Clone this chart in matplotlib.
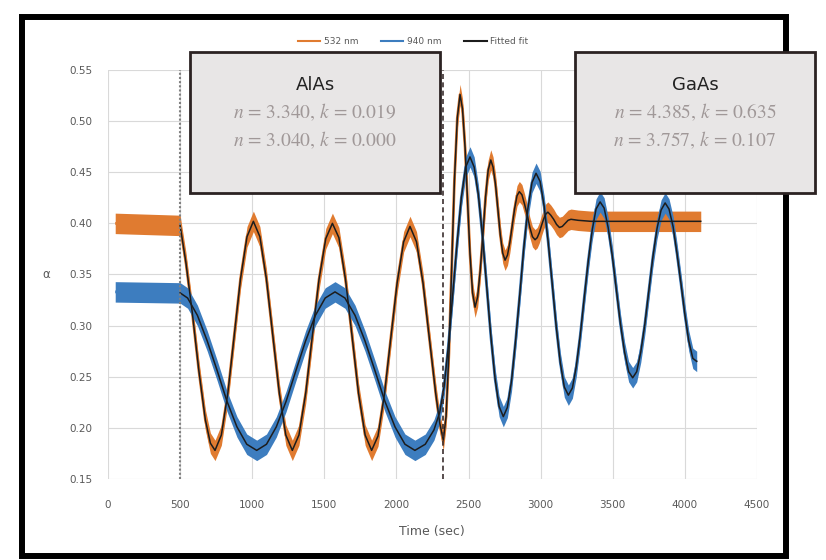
import numpy as np
import matplotlib.pyplot as plt
from matplotlib.patches import Rectangle
from matplotlib.lines import Line2D
from matplotlib.ticker import FormatStrFormatter

plt.rcParams['mathtext.fontset'] = 'stix'

# time (sec) and alpha for the 532 nm trace
t_532 = [50, 500, 540, 585, 630, 675, 710, 742,
         786, 831, 875, 919, 964, 1008,
         1053, 1098, 1143, 1188, 1233, 1278,
         1324, 1371, 1417, 1463, 1510, 1556,
         1601, 1647, 1692, 1737, 1783, 1828,
         1872, 1917, 1961, 2005, 2050, 2094,
         2139, 2184, 2228, 2273, 2300, 2325,
         2344, 2364, 2383, 2402, 2422, 2441,
         2458, 2476, 2493, 2510, 2528, 2545,
         2563, 2581, 2600, 2618, 2636, 2654,
         2670, 2687, 2704, 2720, 2737, 2753,
         2770, 2786, 2803, 2819, 2836, 2852,
         2870, 2888, 2907, 2925, 2943, 2961,
         2976, 2991, 3006, 3020, 3035, 3050,
         3070, 3090, 3110, 3130, 3150, 3170, 3190, 3210, 3260, 3350, 4110]
a_532 = [0.400, 0.398, 0.362, 0.312, 0.256, 0.208, 0.185, 0.178,
         0.193, 0.234, 0.290, 0.346, 0.387, 0.402,
         0.387, 0.346, 0.290, 0.234, 0.193, 0.178,
         0.193, 0.234, 0.290, 0.345, 0.385, 0.400,
         0.386, 0.345, 0.290, 0.234, 0.193, 0.178,
         0.192, 0.233, 0.288, 0.342, 0.382, 0.397,
         0.382, 0.342, 0.288, 0.233, 0.205, 0.188,
         0.211, 0.273, 0.357, 0.442, 0.503, 0.526,
         0.512, 0.474, 0.422, 0.370, 0.332, 0.318,
         0.328, 0.354, 0.390, 0.426, 0.452, 0.462,
         0.455, 0.438, 0.413, 0.389, 0.371, 0.364,
         0.369, 0.381, 0.398, 0.414, 0.427, 0.431,
         0.428, 0.419, 0.408, 0.396, 0.387, 0.384,
         0.386, 0.391, 0.398, 0.404, 0.409, 0.411,
         0.408, 0.404, 0.399, 0.396, 0.397, 0.400, 0.403, 0.404, 0.403, 0.402, 0.402]

# time (sec) and alpha for the 940 nm trace
t_940 = [50, 500, 552, 620, 688, 757, 825, 894, 962, 1031,
         1099, 1167, 1235, 1303, 1370, 1438, 1506, 1574,
         1643, 1713, 1782, 1851, 1920, 1990, 2059, 2128,
         2200, 2260, 2300, 2330, 2360, 2390, 2420, 2450, 2480, 2510,
         2539, 2568, 2597, 2626, 2655, 2684, 2712, 2741,
         2769, 2798, 2826, 2855, 2883, 2911, 2940, 2968,
         2996, 3024, 3052, 3080, 3108, 3136, 3164, 3192,
         3220, 3247, 3274, 3302, 3330, 3357, 3384, 3412,
         3440, 3468, 3497, 3525, 3553, 3582, 3610, 3638,
         3666, 3694, 3722, 3750, 3778, 3807, 3835, 3863,
         3890, 3918, 3945, 3973, 4000, 4027, 4055, 4082]
a_940 = [0.333, 0.332, 0.327, 0.310, 0.285, 0.256, 0.226, 0.201, 0.184, 0.178,
         0.184, 0.201, 0.226, 0.256, 0.285, 0.310, 0.327, 0.333,
         0.327, 0.310, 0.285, 0.256, 0.226, 0.201, 0.184, 0.178,
         0.184, 0.198, 0.215, 0.240, 0.280, 0.330, 0.380, 0.425, 0.455, 0.465,
         0.455, 0.428, 0.387, 0.338, 0.289, 0.248, 0.221, 0.211,
         0.220, 0.246, 0.285, 0.330, 0.376, 0.414, 0.440, 0.449,
         0.441, 0.417, 0.382, 0.341, 0.299, 0.264, 0.240, 0.232,
         0.239, 0.260, 0.290, 0.327, 0.363, 0.393, 0.414, 0.421,
         0.415, 0.396, 0.368, 0.335, 0.302, 0.274, 0.255, 0.249,
         0.255, 0.274, 0.301, 0.334, 0.367, 0.395, 0.413, 0.420,
         0.414, 0.397, 0.371, 0.341, 0.311, 0.285, 0.268, 0.265]

fit_start = 500      # fit drawn from growth start
t_alas_start = 500   # dotted marker
t_gaas_start = 2325  # dashed marker

labels = ['532 nm', '940 nm', 'Fitted fit']
alas_lines = ['$n$ = 3.340, $k$ = 0.019', '$n$ = 3.040, $k$ = 0.000']
gaas_lines = ['$n$ = 4.385, $k$ = 0.635', '$n$ = 3.757, $k$ = 0.107']

W, H = 826, 560
fig = plt.figure(figsize=(W / 100, H / 100), dpi=100)
ax = fig.add_axes([108 / W, 1 - 479 / H, (757 - 108) / W, (479 - 70) / H])

orange = '#E07B30'
blue = '#3D7DBF'
fitc = '#1c1c1c'
band = 0.010

t1, a1 = np.array(t_532), np.array(a_532)
t2, a2 = np.array(t_940), np.array(a_940)

ax.fill_between(t1, a1 - band, a1 + band, color=orange, lw=0, zorder=2)
ax.plot(t1, a1, color=orange, lw=2, zorder=2, solid_capstyle='butt')
ax.fill_between(t2, a2 - band, a2 + band, color=blue, lw=0, zorder=3)
ax.plot(t2, a2, color=blue, lw=2, zorder=3, solid_capstyle='butt')

m1 = t1 >= fit_start
m2 = t2 >= fit_start
ax.plot(t1[m1], a1[m1], color=fitc, lw=1.1, zorder=4)
ax.plot(t2[m2], a2[m2], color=fitc, lw=1.1, zorder=4)

ax.axvline(t_alas_start, color='#808080', ls=(0, (1, 1)), lw=1.5, zorder=5)
ax.axvline(t_gaas_start, color='#3b2f2f', ls=(0, (3, 2)), lw=1.2, zorder=5)

ax.set_xlim(0, 4500)
ax.set_ylim(0.15, 0.55)
ax.set_xticks(np.arange(0, 4501, 500))
ax.set_yticks(np.arange(0.15, 0.5501, 0.05))
ax.yaxis.set_major_formatter(FormatStrFormatter('%.2f'))
ax.grid(color='#d9d9d9', lw=0.8)
ax.set_axisbelow(True)
for s in ax.spines.values():
    s.set_visible(False)
ax.tick_params(length=0, labelsize=7.5, labelcolor='#595959')
ax.tick_params(axis='x', pad=15)
ax.tick_params(axis='y', pad=11)

fig.text(432 / W, 1 - 532 / H, 'Time (sec)', ha='center', va='center',
         fontsize=9, color='#595959')
fig.text(46 / W, 1 - 274 / H, 'α', ha='center', va='center',
         fontsize=8.5, color='#595959')

handles = [Line2D([], [], color=orange, lw=1.5),
           Line2D([], [], color=blue, lw=1.5),
           Line2D([], [], color=fitc, lw=1.5)]
fig.legend(handles, labels, loc='center', bbox_to_anchor=(413 / W, 1 - 42 / H),
           ncol=3, frameon=False, fontsize=6.5, labelcolor='#595959',
           handlelength=2.5, columnspacing=2.5, handletextpad=0.4)

# outer frame
fig.add_artist(Rectangle((21.5 / W, 1 - 556 / H), (786 - 21.5) / W, (556 - 16.5) / H,
                         transform=fig.transFigure, fill=False, edgecolor='black',
                         lw=4.3, zorder=8))


def info_box(x0, x1, title, lines):
    fig.add_artist(Rectangle((x0 / W, 1 - 193 / H), (x1 - x0) / W, (193 - 52) / H,
                             transform=fig.transFigure, facecolor='#e8e6e6',
                             edgecolor='#2b2222', lw=2, zorder=10))
    cx = (x0 + x1) / 2 / W
    fig.text(cx, 1 - 85 / H, title, ha='center', va='center', fontsize=13,
             color='#222222', zorder=11)
    for y, s in zip([112, 140], lines):
        fig.text(cx, 1 - y / H, s, ha='center', va='center', fontsize=14,
                 family='STIXGeneral', color='#a09898', zorder=11)


info_box(190, 440, 'AlAs', alas_lines)
info_box(575, 815, 'GaAs', gaas_lines)

fig.savefig('out.png', dpi=100)
